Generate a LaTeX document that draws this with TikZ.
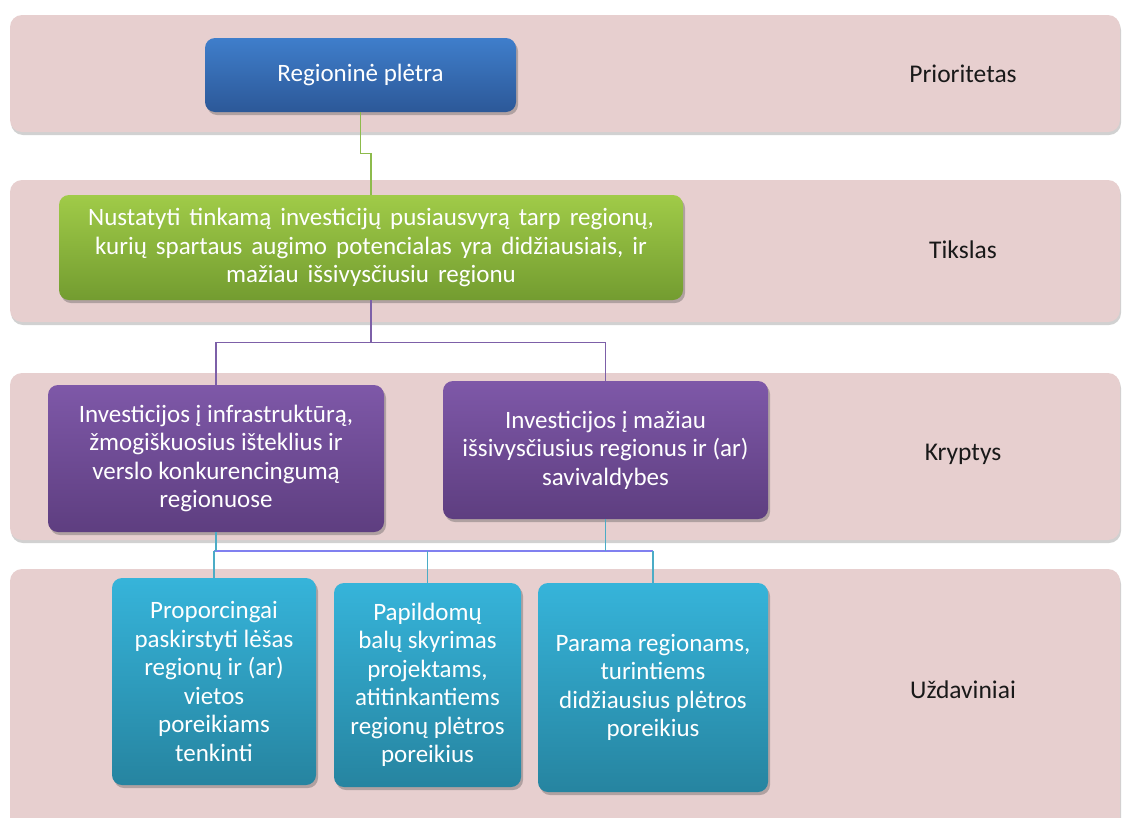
\documentclass[tikz,border=0pt]{standalone}
\usepackage{fontspec}
\setmainfont{Carlito}
\usetikzlibrary{shadows,calc}
\definecolor{bandpink}{HTML}{E7CFCF}
\definecolor{bluetop}{HTML}{3F7ECB}
\definecolor{bluebot}{HTML}{2C5898}
\definecolor{greentop}{HTML}{A0CB48}
\definecolor{greenbot}{HTML}{739C30}
\definecolor{purtop}{HTML}{7E58A8}
\definecolor{purbot}{HTML}{5E3E80}
\definecolor{cyantop}{HTML}{36B4DA}
\definecolor{cyanbot}{HTML}{2684A0}
\definecolor{gline}{HTML}{8DBB4C}
\definecolor{pline}{HTML}{7D60A8}
\definecolor{cline}{HTML}{4BACC6}
\definecolor{bline}{HTML}{8080F0}
\tikzset{
  band/.style={fill=bandpink, rounded corners=12pt,
    drop shadow={shadow xshift=1pt, shadow yshift=-3pt, opacity=0.45, fill=gray!80}},
  boxbase/.style={rounded corners=10pt, text=white, align=center,
    font=\fontsize{25}{28.5}\selectfont, inner sep=0pt,
    drop shadow={shadow xshift=2pt, shadow yshift=-3pt, opacity=0.35, fill=black!70}},
  bluebox/.style={boxbase, top color=bluetop, bottom color=bluebot},
  greenbox/.style={boxbase, top color=greentop, bottom color=greenbot,
    font={\fontsize{25}{28.5}\selectfont\spaceskip=9pt plus 2pt\relax}},
  purbox/.style={boxbase, top color=purtop, bottom color=purbot},
  cyanbox/.style={boxbase, top color=cyantop, bottom color=cyanbot},
  lbl/.style={font=\fontsize{25.5}{28}\selectfont, text=black!90},
  conn/.style={line width=1.2pt}
}
\begin{document}
\begin{tikzpicture}[x=1pt,y=1pt]
\useasboundingbox (0,0) rectangle (1122,-817);
% bands
\path[band] (10,-15) rectangle (1120,-132);
\path[band] (10,-180) rectangle (1120,-322);
\path[band] (10,-373) rectangle (1120,-540);
\path[band] (10,-569) rectangle (1120,-840);
% labels
\node[lbl] (l1) at (963,-74) {Prioritetas};
\node[lbl] (l2) at (963,-250) {Tikslas};
\node[lbl] (l3) at (963,-454) {Kryptys};
\node[lbl] (l4) at (963,-690) {Uždaviniai};
% boxes
\node[bluebox, minimum width=311pt, minimum height=74pt] (top) at (360.5,-75) {Regioninė plėtra};
\node[greenbox, minimum width=624pt, minimum height=105pt] (green) at (371,-247.5)
  {Nustatyti tinkamą investicijų pusiausvyrą tarp regionų,\\ kurių spartaus augimo potencialas yra didžiausiais, ir\\ mažiau išsivysčiusiu regionu};
\node[purbox, minimum width=336pt, minimum height=147pt] (pl) at (216,-458.5)
  {Investicijos į infrastruktūrą,\\ žmogiškuosius išteklius ir\\ verslo konkurencingumą\\ regionuose};
\node[purbox, minimum width=325pt, minimum height=138pt] (pr) at (605.5,-450)
  {Investicijos į mažiau\\ išsivysčiusius regionus ir (ar)\\ savivaldybes};
\node[cyanbox, minimum width=204pt, minimum height=207pt] (c1) at (214,-681.5)
  {Proporcingai\\ paskirstyti lėšas\\ regionų ir (ar)\\ vietos\\ poreikiams\\ tenkinti};
\node[cyanbox, minimum width=187pt, minimum height=204pt] (c2) at (427.5,-685)
  {Papildomų\\ balų skyrimas\\ projektams,\\ atitinkantiems\\ regionų plėtros\\ poreikius};
\node[cyanbox, minimum width=230pt, minimum height=209pt] (c3) at (653,-687.5)
  {Parama regionams,\\ turintiems\\ didžiausius plėtros\\ poreikius};
% connectors
\coordinate (m1) at ($(top.south)!0.5!(green.north)$);
\draw[conn, gline] (top.south) |- (m1) -| (green.north);
\coordinate (j1) at ($(green.south)+(0,-42)$);
\draw[conn, pline] (green.south) -- (j1);
\draw[conn, pline] (pl.north) |- (j1) -| (pr.north);
\coordinate (j2) at (428,-551);
\draw[conn, bline] (c1.north |- j2) -- (c3.north |- j2);
\draw[conn, cline] (pl.south) -- (pl.south |- j2);
\draw[conn, cline] (pr.south) -- (pr.south |- j2);
\draw[conn, cline] (c1.north) -- (c1.north |- j2);
\draw[conn, cline] (c2.north) -- (c2.north |- j2);
\draw[conn, cline] (c3.north) -- (c3.north |- j2);
\end{tikzpicture}
\end{document}
